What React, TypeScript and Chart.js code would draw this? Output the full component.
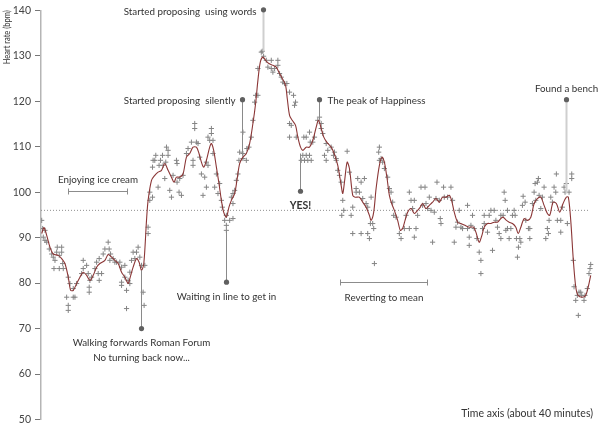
import { useEffect, useRef } from "react";
import { Chart, registerables } from "chart.js";

Chart.register(...registerables);

// ---- axis values ----
const Y_MIN = 50;
const Y_MAX = 140;
const Y_STEP = 10;
const T_MIN = 0;
const T_MAX = 555;
const Y_TITLE = "Heart rate (bpm)";
const X_TITLE = "Time axis (about 40 minutes)";

// dotted reference level (bpm)
const BASELINE_BPM = 96;
const BASELINE_SPAN: [number, number] = [0, 550];

// smoothed heart rate [time, bpm]
const SMOOTH: [number, number][] = [
  [0.7, 90.9], [3, 92.2], [5.7, 90.5], [9, 87.9], [12.3, 86.4], [17.3, 86.1], [20.7, 85.4], [24, 84.3],
  [27.3, 81.3], [29.7, 78.4], [32.3, 78.4], [35.7, 79.9], [39, 81.3], [42.3, 82.4], [45.7, 81.7], [49, 80.6],
  [52.3, 81.7], [55.7, 83.5], [59, 84.3], [64, 85.0], [67.3, 86.3], [70.7, 85.7], [74, 85], [77.3, 84.3],
  [80.7, 82.4], [84, 81.3], [87.3, 79.9], [89, 81], [92.3, 83.5], [95.7, 85.4], [98.3, 84.6], [100.7, 82.8],
  [103, 84.3], [105.7, 93.8], [107.3, 98.2], [110.7, 102.6], [114, 103.7], [117.3, 104.4], [120.7, 104.8],
  [124, 106.3], [127.3, 104.8], [130.7, 103.3], [133.3, 102.2], [135.7, 103.3], [139, 103.3], [142.3, 104],
  [145.7, 107.7], [149, 108.5], [152.3, 109.9], [155.7, 109.9], [158.3, 108.5], [160.7, 106.6], [163, 105.5],
  [165.7, 107], [169, 109.9], [170.7, 110.7], [173, 109.2], [175.7, 105.5], [178.3, 101.9], [180.7, 98.2],
  [183, 95.6], [185.7, 94.5], [188.3, 96.7], [190.7, 98.2], [194, 99.7], [196.3, 102.6], [199, 106.3],
  [202.3, 107.7], [205.7, 108.5], [209, 110.7], [212.3, 115.1], [215, 119.5], [217.3, 124.6], [219.7, 128.6],
  [222.3, 129.7], [225, 129], [228.3, 128.3], [232.3, 127.9], [235.7, 127.5], [238.3, 126.4], [241.7, 125],
  [245, 123.5], [246.7, 120.6], [249, 116.9], [251.7, 115.8], [255, 114.7], [257.3, 112.1], [260, 109.9],
  [262.3, 109.2], [265.7, 109.9], [269, 109.9], [272.3, 111.4], [275.7, 114.3], [278, 115.8], [280.7, 114],
  [283.3, 112.1], [286.3, 111], [290.7, 109.9], [294, 108.3], [297.3, 105.9], [300.7, 101.5], [302.3, 99.7],
  [304, 102.2], [306.7, 106.6], [309, 105.2], [312.3, 99.3], [314.7, 98.9], [319, 98.9], [322.3, 97.8],
  [325.7, 96.7], [329, 94.9], [330.7, 93.8], [333.3, 95.6], [335.7, 100.8], [339, 105.9], [341.7, 107.7],
  [344, 106.6], [346.7, 103], [349, 99.3], [351.3, 97.5], [354, 96], [357.3, 93.8], [360, 91.6], [362.3, 92],
  [364.7, 93.8], [367.3, 95.6], [370.7, 96.4], [374, 95.3], [377.3, 96], [380, 96.7], [382.3, 97.5],
  [385.7, 96.4], [389, 97.1], [392.3, 97.8], [395.7, 98.6], [399, 97.8], [402.3, 98.9], [405.7, 98.9],
  [409, 99.3], [411.3, 98.2], [414, 95.6], [417.3, 93.4], [420.7, 93.1], [424.7, 92.7], [429, 92.3],
  [433.3, 92.3], [435.7, 91.2], [439, 89], [441.7, 90.5], [444, 92.3], [447.3, 93.1], [450.7, 93.1],
  [454, 93.4], [457.3, 93.4], [460.7, 94.2], [463, 94.5], [465.7, 93.9], [469, 93.4], [472.3, 93.1],
  [475.7, 92.3], [478, 90.9], [480.7, 92.3], [484, 94.2], [487.3, 93.8], [490.7, 94.5], [494, 97.5],
  [497.3, 98.6], [500.7, 98.9], [504, 97.1], [507.3, 95.3], [509.7, 94.9], [513, 97.8], [516.3, 97.5],
  [519.7, 95.6], [523, 97.5], [526.3, 98.9], [528.3, 98.9], [530.7, 93.8], [533.3, 85], [535.7, 79.2],
  [538, 77.3], [542.3, 76.9], [545.7, 77.3], [548.3, 79.2], [550.7, 81.7],
];

// raw heart-rate samples [time, bpm]
const RAW: [number, number][] = [
  [0.7, 93.8], [1.7, 92], [4, 91.6], [2.3, 90.1], [4, 89.4], [5.7, 89], [8.3, 87.5], [10.7, 86.4], [12.3, 85.7],
  [14, 85], [15.7, 86.8], [16.3, 87.9], [18.3, 86.1], [20.7, 87.9], [20.7, 86.8], [13, 83.2], [18.3, 83.2],
  [21.7, 84.3], [22.3, 83.2], [27.3, 81.3], [25.7, 76.9], [32.3, 76.9], [34, 76.9], [27.3, 75.1], [27.3, 74],
  [29, 79.9], [32.3, 78.8], [35.7, 79.9], [40.7, 82.1], [42.3, 85], [45.7, 83.9], [42.3, 83.2], [47.3, 82.1],
  [49, 80.6], [50.7, 81.3], [48.3, 78], [48.3, 79.1], [54, 83.2], [55.7, 84.6], [58.3, 85.4], [57.3, 82.1],
  [58.3, 80.6], [60.7, 82.1], [62.3, 86.4], [64, 87.5], [67.3, 89], [68.3, 87.5], [69.7, 86.4], [69, 85],
  [72.3, 85.4], [74, 84.6], [75.7, 84.6], [79, 84.6], [80.7, 83.5], [84, 83.9], [84, 81.3], [80.7, 80.2],
  [80.7, 79.5], [87.3, 80.6], [89, 79.9], [85.7, 78.4], [85.7, 74.4], [89, 82.4], [90.7, 85], [92.3, 86.8],
  [95.7, 86.8], [97.3, 87.9], [94, 85.4], [99, 85.7], [100.7, 83.9], [104, 83.9], [102.3, 78], [103.3, 75.1],
  [107.3, 90.9], [107.3, 92.3], [109, 98.2], [109, 100], [111.7, 98.9], [112.3, 107], [114, 107], [115, 108.1],
  [111.7, 105.5], [117.3, 101.1], [118.3, 105.9], [119.7, 107], [121.7, 108.1], [122.3, 105.9], [124, 103],
  [125, 106.6], [127.3, 108.1], [127.3, 109.2], [125.7, 109.9], [129, 100.4], [130.7, 98.9], [132.3, 103.7],
  [135.7, 107], [136.3, 106.3], [136.3, 102.2], [138.3, 100], [140.7, 99.3], [139, 103], [142.3, 103.7],
  [145.7, 108.5], [147.3, 109.6],
  [154, 115.1], [154, 114], [155.7, 111], [150.7, 111], [157.3, 110.7], [152.3, 107], [152.3, 105.9],
  [159, 107.7], [160.7, 104], [164, 103.3], [162.3, 99.3], [165.7, 101.1], [165.7, 106.6], [167.3, 105.9],
  [167.3, 112.1], [170.7, 114], [170.7, 112.9], [169, 111.4], [172.3, 111.4], [172.3, 108.5], [174, 101.1],
  [175.7, 104], [179, 101.9], [177.3, 99.7], [180.7, 98.2], [181.7, 96.7], [184, 93.8], [185.7, 94.9],
  [185.7, 92.7], [189, 93.8], [192.3, 94.2], [185.7, 91.6], [190.7, 98.9], [192.3, 97.5], [194, 100.4],
  [195.7, 102.6], [192.3, 99.7], [197.3, 104], [198.3, 107], [199, 108.8], [202.3, 108.5], [202.3, 107.4],
  [202.3, 113.2], [205.7, 107], [208.3, 109.9], [206.3, 109.6], [210.7, 112.1], [212.3, 115.8], [214, 119.8],
  [215, 121.3], [217.3, 121.3], [217.3, 127.2], [221.7, 131], [220.7, 130.8], [223, 129.9], [225.7, 129],
  [227.3, 127.5], [230.7, 129], [230.7, 127.2], [234, 127.2], [232.3, 126.4], [237.3, 129], [237.3, 127.9],
  [239, 126.1], [240.7, 125.3], [242.3, 124.2], [244, 123.9], [246.3, 123.9], [249, 122], [253, 121.3],
  [255, 119.8], [254, 119.1], [249, 115.1], [250.7, 114.7], [249, 112.1], [255.7, 112.1], [263.3, 112.1],
  [265.7, 112.1], [262.3, 108.1], [265.7, 108.1], [269, 108.1], [260.7, 107], [264, 107], [267.3, 107],
  [270.7, 107], [269, 113.2], [269.7, 111], [272.3, 111], [274, 112.1], [277.3, 115.8], [279, 116.5],
  [280.7, 115.1], [280.7, 114], [282.3, 112.9], [285.7, 110.7], [284, 108.1], [285.7, 107], [287.3, 109.2],
  [290.7, 109.9], [293, 108.1], [295.7, 107],
  [294, 108.8], [295.7, 107.4], [297.3, 104.8], [299, 103.7], [300.7, 102.2], [302.3, 98.2], [303.3, 96],
  [301.3, 94.9], [306.7, 109], [309, 104.4], [310.7, 94.9], [312.3, 96.7], [312.3, 90.9], [315.7, 100.8],
  [315.7, 100], [317.3, 103], [319, 100], [320.7, 102.2], [324, 103], [320.7, 90.9], [322.3, 98.6],
  [325.7, 97.5], [327.3, 96.7], [327.3, 90.9], [329, 89.8], [330, 93.1], [332.3, 93.1], [333.3, 92],
  [330.7, 98.9], [334, 84.3], [339, 109.9], [338.3, 108.8], [340.7, 107.4], [339, 107], [342.3, 106.6],
  [344, 105.2], [347.3, 103.3], [349, 100.8], [350.7, 100], [352.3, 97.8], [353.3, 94.9], [355.7, 94.5],
  [359, 90.9], [360.7, 89.8], [364, 92], [365.7, 94.9], [369, 100], [370.7, 98.2], [374, 98.2], [369, 92],
  [375.7, 92], [374, 90.1], [372.3, 96.4], [377.3, 94.9], [380.7, 101.1], [384.7, 101.1], [382.3, 97.1],
  [385.7, 97.5], [389, 98.9], [387.3, 96.4], [390.7, 96], [392.3, 89], [394, 95.6], [396.7, 102.2],
  [395.7, 98.6], [399, 98.2], [400, 94.2], [400.7, 93.1], [403.3, 101.1], [404, 98.9], [407.3, 98.9],
  [410.7, 101.1], [412.3, 98.2], [414, 89], [415.7, 92.3], [417.3, 93.4], [419, 96], [420.7, 92.3],
  [422.3, 92], [427.3, 97.1], [427.3, 92], [429, 90.1], [429, 88.3], [430.7, 92.7], [432.3, 94.9], [434, 92],
  [436.7, 89.8], [439, 86.8], [440.7, 85], [440.7, 82.1], [442.3, 92],
  [444, 94.9], [444, 93.1], [447.3, 91.2], [449, 94.9], [450.7, 96], [452.3, 87.2], [454, 96], [455.7, 93.8],
  [457.3, 92.3], [459, 90.9], [460.7, 89.8], [460.7, 94.9], [463, 94.9], [464, 100], [465, 98.2],
  [465.7, 91.6], [467.3, 96], [467.3, 92], [469, 89.8], [470.7, 92], [472.3, 94.9], [474, 96], [475, 94.9],
  [476.3, 89.8], [478.3, 87.9], [477.3, 85.7], [479.7, 89.8], [480.7, 89], [482.3, 97.1], [483, 99.1],
  [485, 97.8], [485.7, 93.8], [488.3, 92], [489.7, 89.8], [489.7, 92], [492.3, 97.5], [494, 100],
  [495, 101.9], [497.3, 102.2], [498.3, 103], [495.7, 98.2], [499, 99.3], [500.7, 96.4], [502.3, 98.9],
  [504, 101.1], [505.7, 89.8], [507.3, 92], [508.3, 90.9], [509, 93.8], [510.7, 98.9], [512.3, 97.8],
  [514, 101.1], [515.7, 100], [516.3, 104], [517.3, 93.8], [520.7, 93.8], [520.7, 91.2], [522.3, 96.7],
  [524, 101.1], [525, 100], [526.3, 101.9], [527.3, 93.1], [529, 100], [531.7, 104], [531.7, 103],
  [533.3, 85], [534, 79.2], [535.7, 76.2], [537.3, 77.3], [539, 78], [540.7, 78], [541.7, 77.3], [545, 77.3],
  [544, 76.2], [547.3, 78.8], [549, 82.1], [550, 83.2], [550.7, 84.1], [538.3, 72.9],
];

// event call-outs: time, dot value (bpm), line end value (bpm)
const EVENT_TEXT: string[][] = [
  ["Walking forwards Roman Forum", "No turning back now..."],
  ["Waiting in line to get in"],
  ["Started proposing  silently"],
  ["Started proposing  using words"],
  ["YES!"],
  ["The peak of Happiness"],
  ["Found a bench"],
];
const EVENT_T: number[] = [100, 185.7, 201.7, 222.3, 259.7, 278.3, 526.3];
const EVENT_DOT: number[] = [70, 80.2, 120.35, 140.1, 100.2, 120.35, 120.35];
const EVENT_END: number[] = [82.8, 91.6, 108, 131, 108.5, 116, 99.7];

// period brackets: start time, end time, bpm level
const PERIOD_TEXT: string[] = ["Enjoying ice cream", "Reverting to mean"];
const PERIOD_FROM: number[] = [26.7, 299.7];
const PERIOD_TO: number[] = [85.7, 387];
const PERIOD_AT: number[] = [100.2, 80.2];

// ---- styles ----
const FONT = 'Lato, "Open Sans", sans-serif';
const FS = 9.8;
const EVENT_PLACE = ["below", "below", "left", "left", "below", "right", "above"];
const EVENT_LIGHT = [false, false, false, true, false, false, true];
const PERIOD_PLACE = ["above", "below"];

const notesPlugin = {
  id: "notes",
  afterDatasetsDraw(chart: any) {
    const { ctx, scales, chartArea } = chart;
    const xs = scales.x;
    const ys = scales.y;
    ctx.save();
    ctx.font = `${FS}px ${FONT}`;
    ctx.textBaseline = "middle";

    // brackets
    PERIOD_TEXT.forEach((label, i) => {
      const x1 = Math.round(xs.getPixelForValue(PERIOD_FROM[i])) + 0.5;
      const x2 = Math.round(xs.getPixelForValue(PERIOD_TO[i])) + 0.5;
      const py = Math.round(ys.getPixelForValue(PERIOD_AT[i])) + 0.5;
      ctx.strokeStyle = "#8c8c8c";
      ctx.lineWidth = 1;
      ctx.beginPath();
      ctx.moveTo(x1, py);
      ctx.lineTo(x2, py);
      ctx.moveTo(x1, py - 3);
      ctx.lineTo(x1, py + 3);
      ctx.moveTo(x2, py - 3);
      ctx.lineTo(x2, py + 3);
      ctx.stroke();
      ctx.fillStyle = "#333";
      ctx.textAlign = "center";
      const cx = (x1 + x2) / 2;
      ctx.fillText(label, cx, PERIOD_PLACE[i] === "above" ? py - 11.5 : py + 15.5);
    });

    // event markers
    EVENT_TEXT.forEach((lines, i) => {
      const px = Math.round(xs.getPixelForValue(EVENT_T[i])) + 0.5;
      const pd = ys.getPixelForValue(EVENT_DOT[i]);
      const pe = ys.getPixelForValue(EVENT_END[i]);
      ctx.strokeStyle = EVENT_LIGHT[i] ? "#cfcfcf" : "#8a8a8a";
      ctx.lineWidth = EVENT_LIGHT[i] ? 2 : 1;
      ctx.beginPath();
      ctx.moveTo(px, pd);
      ctx.lineTo(px, pe);
      ctx.stroke();
      ctx.fillStyle = "#606060";
      ctx.beginPath();
      ctx.arc(px, pd, 2.6, 0, Math.PI * 2);
      ctx.fill();

      ctx.fillStyle = "#333";
      const place = EVENT_PLACE[i];
      const bold = lines[0] === "YES!";
      ctx.font = `${bold ? "bold " : ""}${bold ? 10.5 : FS}px ${FONT}`;
      lines.forEach((t, k) => {
        if (place === "below") {
          ctx.textAlign = "center";
          ctx.fillText(t, px, pd + 14.5 + k * 14.5);
        } else if (place === "above") {
          ctx.textAlign = "center";
          ctx.fillText(t, px, pd - 11);
        } else if (place === "left") {
          ctx.textAlign = "right";
          ctx.fillText(t, px - 7, pd + 1.5);
        } else {
          ctx.textAlign = "left";
          ctx.fillText(t, px + 8, pd + 1.5);
        }
      });
      ctx.font = `${FS}px ${FONT}`;
    });

    // time axis caption
    ctx.fillStyle = "#333";
    ctx.textAlign = "right";
    ctx.font = `10.5px ${FONT}`;
    ctx.fillText(X_TITLE, chartArea.right - 2, chartArea.bottom - 6);

    // vertical axis title, top aligned
    ctx.save();
    ctx.translate(6.5, chartArea.top);
    ctx.rotate(-Math.PI / 2);
    ctx.font = `10px ${FONT}`;
    ctx.textAlign = "right";
    ctx.fillStyle = "#333";
    ctx.fillText(Y_TITLE, 0, 0, 54);
    ctx.restore();

    ctx.restore();
  },
};

export default function App() {
  const ref = useRef<HTMLCanvasElement | null>(null);

  useEffect(() => {
    if (!ref.current) return;
    const chart = new Chart(ref.current, {
      type: "scatter",
      data: {
        datasets: [
          {
            type: "line",
            label: "smoothed",
            data: SMOOTH.map(([x, y]) => ({ x, y })),
            borderColor: "#8b3636",
            borderWidth: 1.1,
            pointRadius: 0,
            tension: 0.3,
            fill: false,
          },
          {
            type: "scatter",
            label: "raw",
            data: RAW.map(([x, y]) => ({ x, y })),
            pointStyle: "cross",
            pointRadius: 2.6,
            borderColor: "#858585",
            borderWidth: 1,
            backgroundColor: "#858585",
          },
          {
            type: "line",
            label: "baseline",
            data: BASELINE_SPAN.map((x) => ({ x, y: BASELINE_BPM })),
            borderColor: "#8f8f8f",
            borderWidth: 1,
            borderDash: [1, 2],
            pointRadius: 0,
            fill: false,
          },
        ] as any,
      },
      options: {
        animation: false,
        responsive: false,
        maintainAspectRatio: false,
        events: [],
        layout: { padding: { top: 10, bottom: 10.5, left: 0, right: 4 } },
        plugins: { legend: { display: false }, tooltip: { enabled: false } },
        scales: {
          x: { type: "linear", min: T_MIN, max: T_MAX, display: false },
          y: {
            type: "linear",
            min: Y_MIN,
            max: Y_MAX,
            ticks: {
              stepSize: Y_STEP,
              color: "#444",
              padding: 4,
              font: { family: FONT, size: 10.5 },
            },
            grid: {
              drawOnChartArea: false,
              drawTicks: true,
              tickLength: 6,
              tickColor: "#777",
              tickWidth: 1,
            },
            border: { display: true, color: "#b5b5b5", width: 1.5 },
            title: { display: false },
            afterFit: (s: any) => {
              s.width = 41;
            },
          },
        },
      } as any,
      plugins: [notesPlugin],
    });
    return () => chart.destroy();
  }, []);

  return (
    <div style={{ position: "absolute", left: 0, top: 0, width: 600, height: 430, background: "#fff" }}>
      <canvas ref={ref} width={600} height={430} style={{ width: 600, height: 430, display: "block" }} />
    </div>
  );
}
